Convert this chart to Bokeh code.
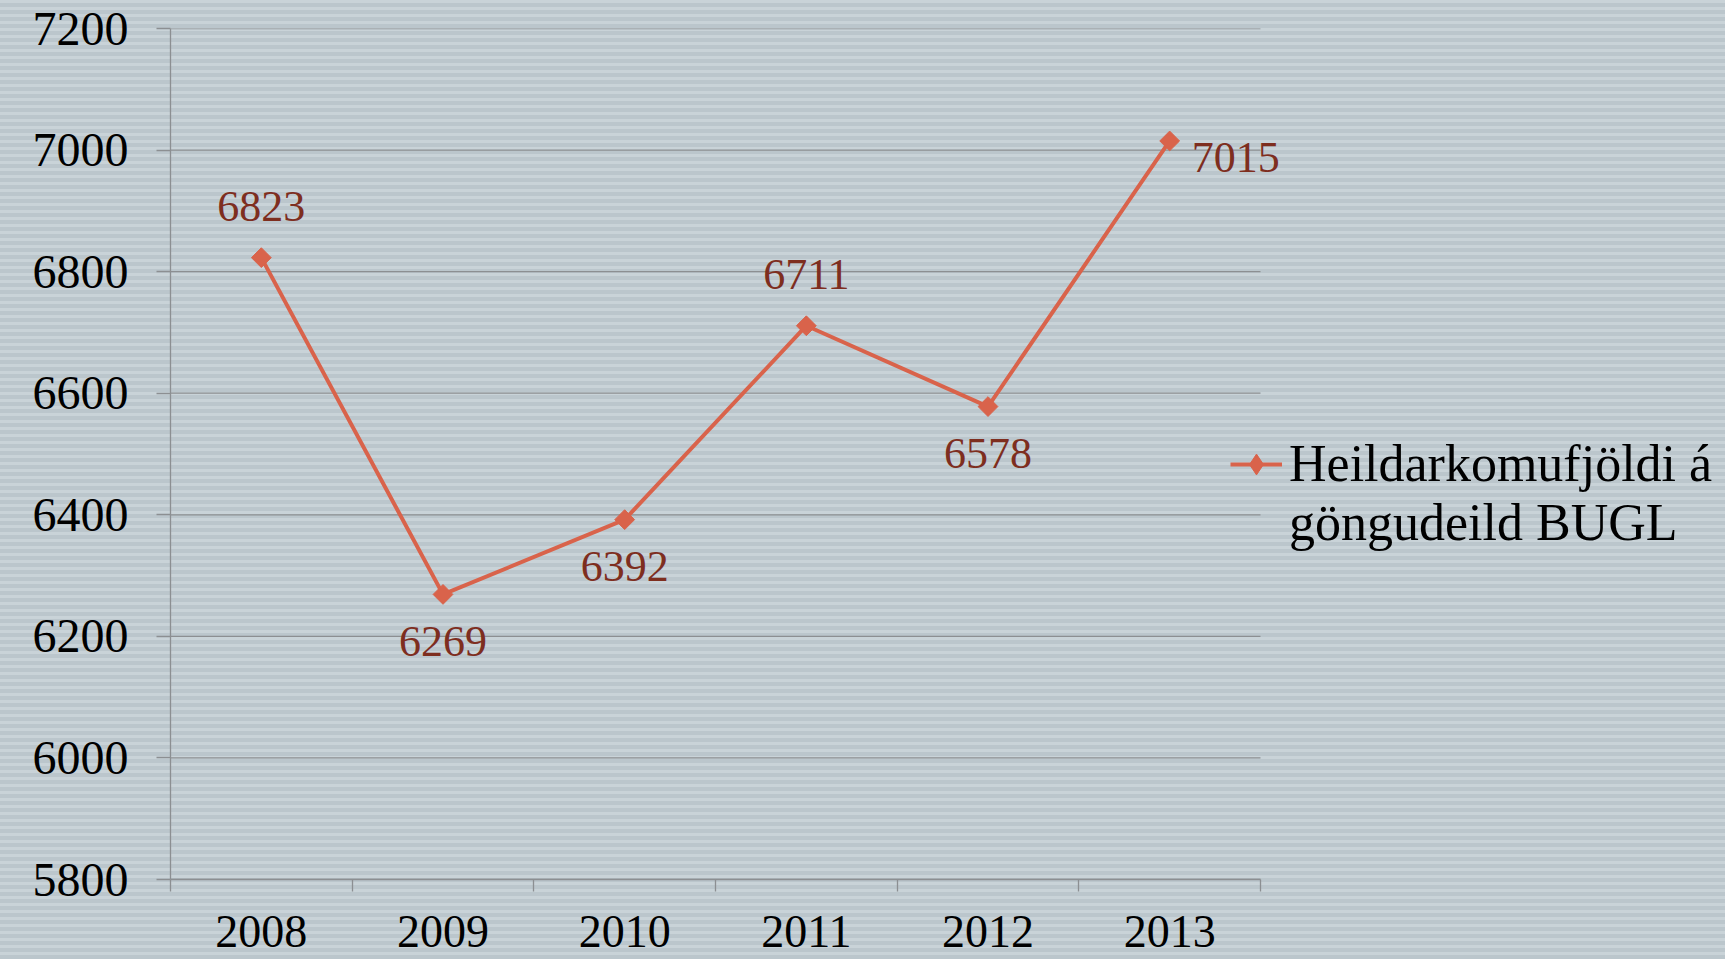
import math
from bokeh.plotting import figure
from bokeh.models import Range1d, LinearAxis, FixedTicker, Legend, LegendItem, ColumnDataSource
from bokeh.core.properties import value
from bokeh.embed import file_html
from bokeh.resources import INLINE

# ---- data ----
years = ["2008", "2009", "2010", "2011", "2012", "2013"]
visits = [6823, 6269, 6392, 6711, 6578, 7015]
label_side = ["above", "below", "below", "above", "below", "right"]
y_ticks = [5800, 6000, 6200, 6400, 6600, 6800, 7000, 7200]
legend_lines = ["Heildarkomufjöldi á", "göngudeild BUGL"]

FONT = "Liberation Serif"
LINE_COLOR = "#d9634b"
LABEL_COLOR = "#7e2e1f"
GRID = "#8c8f92"

W, H = 1725, 959
LEFT, TOP, BOTTOM = 170, 28, 80
PLOT_RIGHT = 1260          # where the category area ends (px)
n = len(years)
x_end = n * (W - LEFT) / (PLOT_RIGHT - LEFT)   # leave room on the right for the legend

p = figure(
    width=W, height=H,
    x_range=Range1d(0, x_end), y_range=Range1d(y_ticks[0], y_ticks[-1]),
    x_axis_location=None,
    output_backend="svg", toolbar_location=None,
    min_border_left=LEFT, min_border_right=0, min_border_top=TOP, min_border_bottom=BOTTOM,
    background_fill_alpha=0, border_fill_alpha=0, outline_line_color=None,
    styles={"background": "repeating-linear-gradient(180deg, #c9d3d8 0px, #c9d3d8 3px, #bbc6cc 3px, #bbc6cc 7px)"},
)
p.xgrid.visible = False
p.ygrid.visible = False

# y axis
ya = p.yaxis[0]
ya.ticker = FixedTicker(ticks=y_ticks)
ya.major_tick_out = 14
ya.major_tick_in = 0
ya.minor_tick_out = 0
ya.minor_tick_in = 0
ya.axis_line_color = GRID
ya.axis_line_width = 1.3
ya.major_tick_line_color = GRID
ya.major_tick_line_width = 1.3
ya.major_label_standoff = 28
ya.major_label_text_font = FONT
ya.major_label_text_font_size = "48px"
ya.major_label_text_color = "black"

# horizontal gridlines over the category area only
p.segment(x0=0, x1=n, y0=y_ticks, y1=y_ticks, line_color=GRID, line_width=1.3)

# x axis: labels at category centres, ticks at category boundaries
centers = [i + 0.5 for i in range(n)]
xa = LinearAxis(
    bounds=(0, n),
    ticker=FixedTicker(ticks=centers, minor_ticks=list(range(n + 1))),
    major_label_overrides={c: y for c, y in zip(centers, years)},
    major_tick_out=0, major_tick_in=0,
    minor_tick_out=12, minor_tick_in=0,
    minor_tick_line_color=GRID, minor_tick_line_width=1.3,
    axis_line_color=GRID, axis_line_width=1.3,
    major_label_standoff=24,
    major_label_text_font=FONT, major_label_text_font_size="46px",
    major_label_text_color="black",
)
p.add_layout(xa, "below")

# data labels
off = {"above": (0, -51, "center"), "below": (0, 47, "center"), "right": (22, 17, "left")}
src = ColumnDataSource(dict(
    x=centers, y=visits, t=[str(v) for v in visits],
    dx=[off[s][0] for s in label_side],
    dy=[off[s][1] for s in label_side],
    al=[off[s][2] for s in label_side],
))

line_r = p.line("x", "y", source=src, line_color=LINE_COLOR, line_width=4)
pt_r = p.scatter("x", "y", source=src, marker="square", angle=math.pi / 4, size=14,
                 fill_color=LINE_COLOR, line_color=LINE_COLOR)
p.text("x", "y", text="t", source=src, x_offset="dx", y_offset="dy", text_align="al",
       text_baseline="middle", text_font=value(FONT), text_font_size="44px",
       text_color=LABEL_COLOR)

# legend-only renderers (diamond symbol, empty second line); NaN positions are never drawn
nan = float("nan")
leg_marker = p.scatter(x=[nan], y=[nan], marker="diamond",
                       fill_color=LINE_COLOR, line_color=LINE_COLOR)
dummy = p.line(x=[nan], y=[nan], line_alpha=0)

legend = Legend(
    items=[LegendItem(label=legend_lines[0], renderers=[line_r, leg_marker]),
           LegendItem(label=legend_lines[1], renderers=[dummy])],
    location=(1060, 327),
    border_line_alpha=0, background_fill_alpha=0,
    padding=0, margin=0, spacing=0,
    glyph_width=52, glyph_height=54, label_height=54, label_standoff=7,
    label_text_font=FONT, label_text_font_size="52px", label_text_color="black",
    label_text_line_height=1.0,
)
p.add_layout(legend)

open("out.html", "w").write(file_html(p, INLINE))
